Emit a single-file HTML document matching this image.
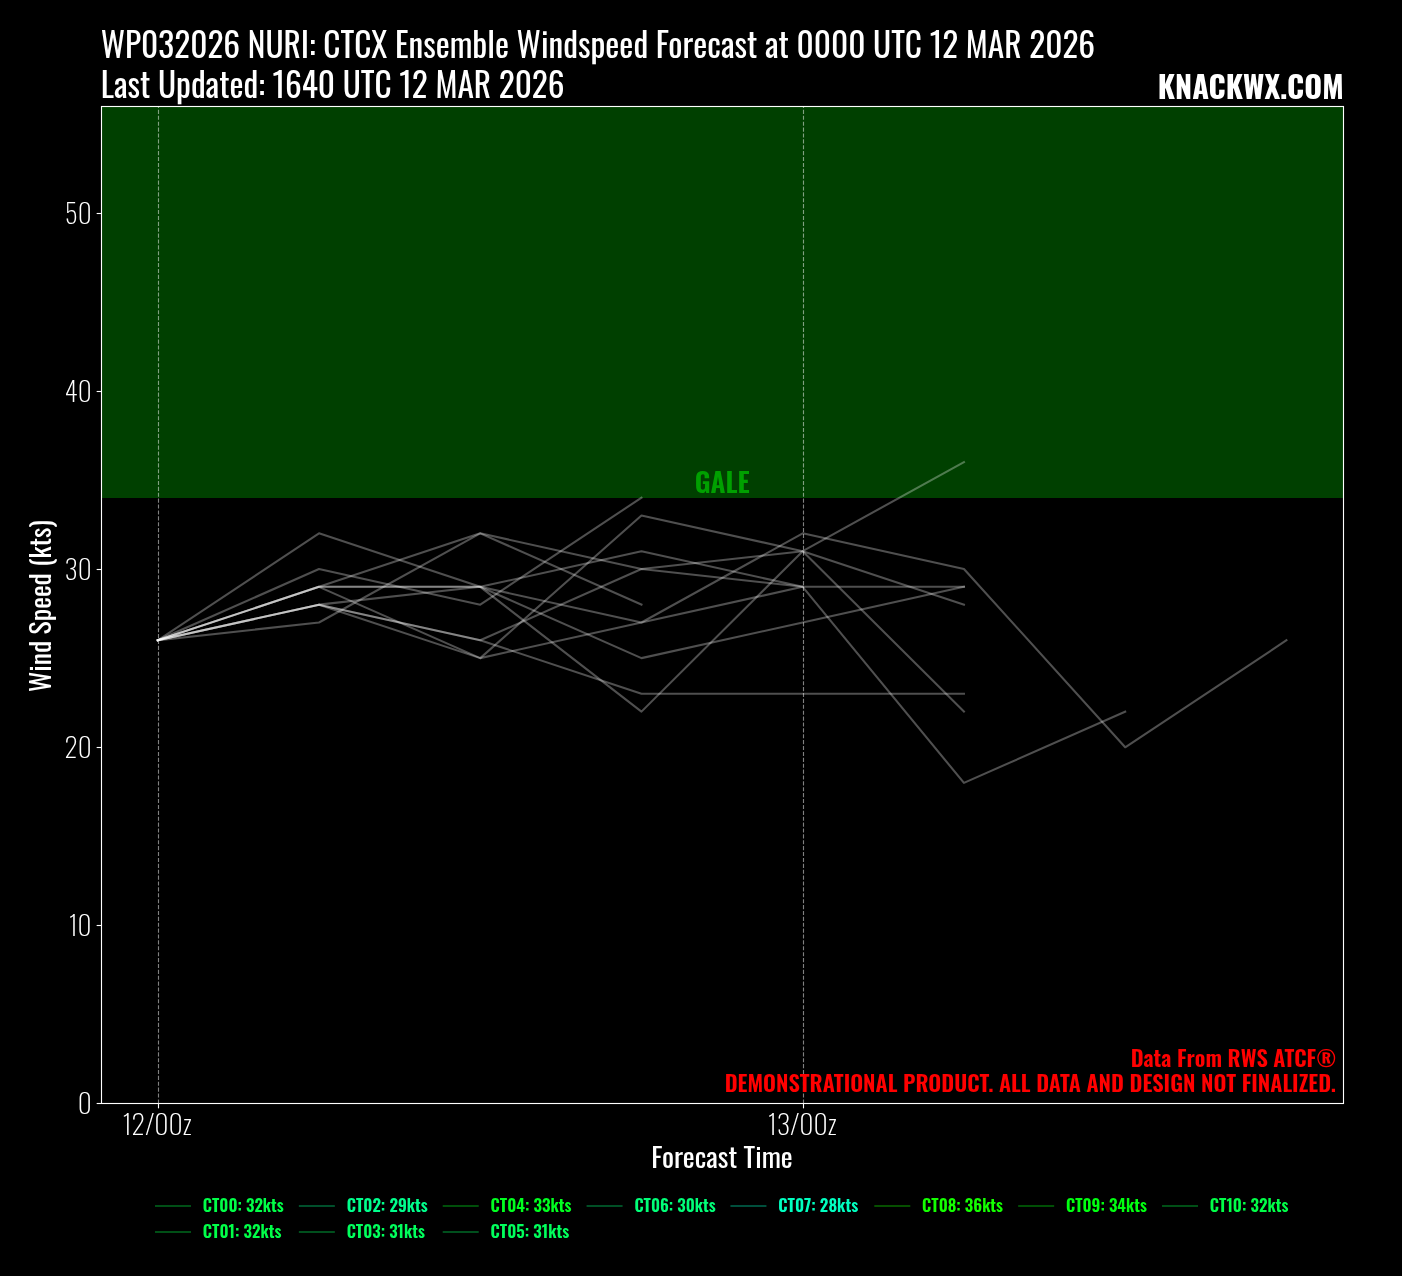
<!DOCTYPE html>
<html><head><meta charset="utf-8"><title>WP032026 NURI: CTCX Ensemble Windspeed Forecast</title>
<style>
html,body{margin:0;padding:0;background:#000;}
body{width:1402px;height:1276px;overflow:hidden;}
svg{display:block;will-change:transform;}
text{font-family:'Oswald','Liberation Sans',sans-serif;}
</style></head><body>
<svg width="1402" height="1276" viewBox="0 0 1402 1276">
<rect x="0" y="0" width="1402" height="1276" fill="#000"/>
<rect x="101.5" y="106.5" width="1242.00" height="391.50" fill="#004000"/>
<line x1="158.5" y1="1103.5" x2="158.5" y2="106.5" stroke="#ffffff" stroke-opacity="0.5" stroke-width="1.11" stroke-dasharray="4.11 1.78"/>
<line x1="803.5" y1="1103.5" x2="803.5" y2="106.5" stroke="#ffffff" stroke-opacity="0.5" stroke-width="1.11" stroke-dasharray="4.11 1.78"/>
<g fill="none" stroke="#ffffff" stroke-opacity="0.31" stroke-width="2.08" stroke-linejoin="round" stroke-linecap="square">
<polyline points="157.76,640.31 319.00,533.35 480.24,586.83 641.47,658.13 802.71,622.48 963.95,586.83"/>
<polyline points="157.76,640.31 319.00,586.83 480.24,586.83 641.47,622.48 802.71,586.83"/>
<polyline points="157.76,640.31 319.00,586.83 480.24,586.83 641.47,551.17 802.71,586.83 963.95,586.83"/>
<polyline points="157.76,640.31 319.00,604.65 480.24,586.83 641.47,711.62 802.71,551.17 963.95,711.62"/>
<polyline points="157.76,640.31 319.00,586.83 480.24,533.35 641.47,569.00 802.71,551.17 963.95,462.04"/>
<polyline points="157.76,640.31 319.00,622.48 480.24,533.35 641.47,604.65"/>
<polyline points="157.76,640.31 319.00,586.83 480.24,658.13 641.47,515.52 802.71,551.17 963.95,604.65"/>
<polyline points="157.76,640.31 319.00,604.65 480.24,658.13 641.47,622.48 802.71,533.35 963.95,569.00 1125.19,747.27 1286.43,640.31"/>
<polyline points="157.76,640.31 319.00,604.65 480.24,640.31 641.47,569.00 802.71,586.83 963.95,782.92 1125.19,711.62"/>
<polyline points="157.76,640.31 319.00,604.65 480.24,640.31 641.47,693.79 802.71,693.79 963.95,693.79"/>
<polyline points="157.76,640.31 319.00,569.00 480.24,604.65 641.47,497.69"/>
</g>
<text x="694.69" y="493.00" textLength="54.96" lengthAdjust="spacingAndGlyphs" font-size="27.8" font-weight="600" fill="#00a000">GALE</text>
<text x="1130.67" y="1066.50" textLength="205.48" lengthAdjust="spacingAndGlyphs" font-size="22.2" font-weight="650" fill="#ff0000">Data From RWS ATCF®</text>
<text x="724.67" y="1091.80" textLength="611.26" lengthAdjust="spacingAndGlyphs" font-size="22.2" font-weight="650" fill="#ff0000">DEMONSTRATIONAL PRODUCT. ALL DATA AND DESIGN NOT FINALIZED.</text>
<rect x="101.5" y="106.5" width="1242.00" height="997.00" fill="none" stroke="#fff" stroke-width="1.11"/>
<line x1="96.64" y1="1103.50" x2="101.5" y2="1103.50" stroke="#fff" stroke-width="1.11"/>
<text x="77.63" y="1113.70" textLength="14.02" lengthAdjust="spacingAndGlyphs" font-size="27.8" font-weight="200" fill="#ffffff">0</text>
<line x1="96.64" y1="925.50" x2="101.5" y2="925.50" stroke="#fff" stroke-width="1.11"/>
<text x="68.63" y="935.70" textLength="22.96" lengthAdjust="spacingAndGlyphs" font-size="27.8" font-weight="200" fill="#ffffff">10</text>
<line x1="96.64" y1="747.50" x2="101.5" y2="747.50" stroke="#fff" stroke-width="1.11"/>
<text x="64.51" y="757.70" textLength="27.27" lengthAdjust="spacingAndGlyphs" font-size="27.8" font-weight="200" fill="#ffffff">20</text>
<line x1="96.64" y1="569.50" x2="101.5" y2="569.50" stroke="#fff" stroke-width="1.11"/>
<text x="64.51" y="579.70" textLength="27.16" lengthAdjust="spacingAndGlyphs" font-size="27.8" font-weight="200" fill="#ffffff">30</text>
<line x1="96.64" y1="391.50" x2="101.5" y2="391.50" stroke="#fff" stroke-width="1.11"/>
<text x="64.45" y="401.70" textLength="27.38" lengthAdjust="spacingAndGlyphs" font-size="27.8" font-weight="200" fill="#ffffff">40</text>
<line x1="96.64" y1="213.50" x2="101.5" y2="213.50" stroke="#fff" stroke-width="1.11"/>
<text x="64.73" y="223.70" textLength="26.95" lengthAdjust="spacingAndGlyphs" font-size="27.8" font-weight="200" fill="#ffffff">50</text>
<line x1="158.5" y1="1103.5" x2="158.5" y2="1108.36" stroke="#fff" stroke-width="1.11"/>
<text x="122.49" y="1135.00" textLength="69.32" lengthAdjust="spacingAndGlyphs" font-size="27.8" font-weight="200" fill="#ffffff">12/00z</text>
<line x1="803.5" y1="1103.5" x2="803.5" y2="1108.36" stroke="#fff" stroke-width="1.11"/>
<text x="767.70" y="1135.00" textLength="69.13" lengthAdjust="spacingAndGlyphs" font-size="27.8" font-weight="200" fill="#ffffff">13/00z</text>
<text x="651.27" y="1167.70" textLength="141.46" lengthAdjust="spacingAndGlyphs" font-size="27.8" font-weight="400" fill="#ffffff">Forecast Time</text>
<text transform="translate(51.20,691.97) rotate(-90)" textLength="171.70" lengthAdjust="spacingAndGlyphs" font-size="27.8" font-weight="400" fill="#ffffff">Wind Speed (kts)</text>
<text x="100.75" y="57.70" textLength="994.40" lengthAdjust="spacingAndGlyphs" font-size="33.3" font-weight="400" fill="#ffffff">WP032026 NURI: CTCX Ensemble Windspeed Forecast at 0000 UTC 12 MAR 2026</text>
<text x="100.72" y="98.00" textLength="463.84" lengthAdjust="spacingAndGlyphs" font-size="33.3" font-weight="400" fill="#ffffff">Last Updated: 1640 UTC 12 MAR 2026</text>
<text x="1157.70" y="98.90" textLength="185.97" lengthAdjust="spacingAndGlyphs" font-size="30.6" font-weight="700" fill="#ffffff">KNACKWX.COM</text>
<line x1="155.00" y1="1206.0" x2="191.00" y2="1206.0" stroke="#004f16" stroke-width="2.08"/>
<text x="202.80" y="1211.80" textLength="80.91" lengthAdjust="spacingAndGlyphs" font-size="16.7" font-weight="600" fill="#00ff48">CT00: 32kts</text>
<line x1="155.00" y1="1232.0" x2="191.00" y2="1232.0" stroke="#004f16" stroke-width="2.08"/>
<text x="202.80" y="1237.80" textLength="78.63" lengthAdjust="spacingAndGlyphs" font-size="16.7" font-weight="600" fill="#00ff48">CT01: 32kts</text>
<line x1="298.86" y1="1206.0" x2="334.86" y2="1206.0" stroke="#004f2b" stroke-width="2.08"/>
<text x="346.65" y="1211.80" textLength="81.14" lengthAdjust="spacingAndGlyphs" font-size="16.7" font-weight="600" fill="#00ff8c">CT02: 29kts</text>
<line x1="298.86" y1="1232.0" x2="334.86" y2="1232.0" stroke="#004f1d" stroke-width="2.08"/>
<text x="346.66" y="1237.80" textLength="78.16" lengthAdjust="spacingAndGlyphs" font-size="16.7" font-weight="600" fill="#00ff5c">CT03: 31kts</text>
<line x1="442.72" y1="1206.0" x2="478.72" y2="1206.0" stroke="#004f0a" stroke-width="2.08"/>
<text x="490.51" y="1211.80" textLength="80.93" lengthAdjust="spacingAndGlyphs" font-size="16.7" font-weight="600" fill="#00ff20">CT04: 33kts</text>
<line x1="442.72" y1="1232.0" x2="478.72" y2="1232.0" stroke="#004f1d" stroke-width="2.08"/>
<text x="490.51" y="1237.80" textLength="78.75" lengthAdjust="spacingAndGlyphs" font-size="16.7" font-weight="600" fill="#00ff5c">CT05: 31kts</text>
<line x1="586.58" y1="1206.0" x2="622.58" y2="1206.0" stroke="#004f25" stroke-width="2.08"/>
<text x="634.38" y="1211.80" textLength="81.33" lengthAdjust="spacingAndGlyphs" font-size="16.7" font-weight="600" fill="#00ff78">CT06: 30kts</text>
<line x1="730.44" y1="1206.0" x2="766.44" y2="1206.0" stroke="#004f3c" stroke-width="2.08"/>
<text x="778.23" y="1211.80" textLength="79.94" lengthAdjust="spacingAndGlyphs" font-size="16.7" font-weight="600" fill="#00ffc0">CT07: 28kts</text>
<line x1="874.30" y1="1206.0" x2="910.30" y2="1206.0" stroke="#064f00" stroke-width="2.08"/>
<text x="922.10" y="1211.80" textLength="80.88" lengthAdjust="spacingAndGlyphs" font-size="16.7" font-weight="600" fill="#14ff00">CT08: 36kts</text>
<line x1="1018.16" y1="1206.0" x2="1054.16" y2="1206.0" stroke="#004f05" stroke-width="2.08"/>
<text x="1065.96" y="1211.80" textLength="80.84" lengthAdjust="spacingAndGlyphs" font-size="16.7" font-weight="600" fill="#00ff10">CT09: 34kts</text>
<line x1="1162.02" y1="1206.0" x2="1198.02" y2="1206.0" stroke="#004f16" stroke-width="2.08"/>
<text x="1209.82" y="1211.80" textLength="78.51" lengthAdjust="spacingAndGlyphs" font-size="16.7" font-weight="600" fill="#00ff48">CT10: 32kts</text>
</svg>
</body></html>
